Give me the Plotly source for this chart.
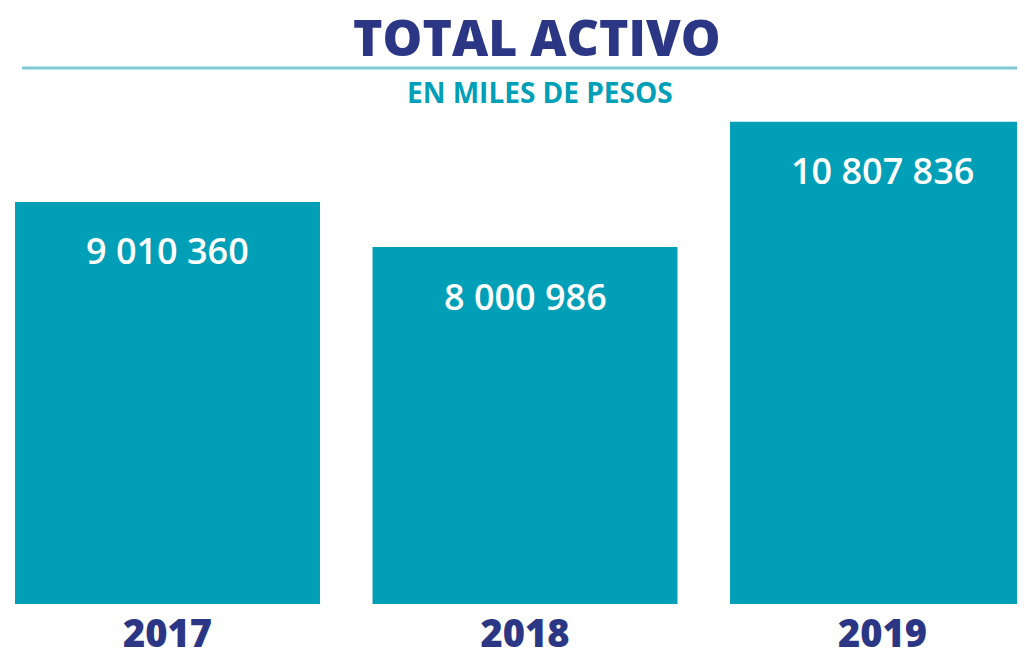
import plotly.graph_objects as go

# Total activo, en miles de pesos
years = ["2017", "2018", "2019"]
total_activo = [9010360, 8000986, 10807836]

NAVY = "#2B3784"
TEAL = "#009FB8"
LINE = "#7FC9D7"
FONT = "Open Sans"


def fmt(v):
    return f"{v:,}".replace(",", " ")


fig = go.Figure(
    go.Bar(
        x=years,
        y=total_activo,
        width=0.853,
        marker=dict(color=TEAL, line_width=0),
        hoverinfo="skip",
    )
)

# value labels inside the top of each bar (x by category index)
for i, v in enumerate(total_activo):
    fig.add_annotation(
        x=i, y=v, xref="x", yref="y",
        text=fmt(v), showarrow=False,
        yanchor="middle", yshift=-49,
        font=dict(family=FONT, size=36, color="white", weight=600),
    )

# title, rule and subtitle
fig.add_annotation(
    x=529 / 1017, y=1.1485, xref="paper", yref="paper",
    text="TOTAL ACTIVO", showarrow=False, yanchor="middle",
    font=dict(family=FONT, size=50, color=NAVY, weight=800),
)
fig.add_annotation(
    x=532 / 1017, y=1.0356, xref="paper", yref="paper",
    text="EN MILES DE PESOS", showarrow=False, yanchor="middle",
    font=dict(family=FONT, size=28, color=TEAL, weight=700),
)
fig.add_shape(
    type="line", xref="paper", yref="paper",
    x0=14 / 1017, x1=1, y0=1.0851, y1=1.0851,
    line=dict(color=LINE, width=3),
)

# page body adds an 8px margin, so the figure is 8px smaller each way
fig.update_layout(
    width=1017,
    height=650,
    margin=dict(l=0, r=0, t=102, b=43),
    plot_bgcolor="white",
    paper_bgcolor="white",
    showlegend=False,
    font=dict(family=FONT),
)
fig.update_xaxes(
    type="category",
    range=[-0.4462, 2.3986],
    showgrid=False, zeroline=False, showline=False, ticks="",
    ticklabelstandoff=4,
    tickfont=dict(family=FONT, size=38, color=NAVY, weight=800),
)
fig.update_yaxes(
    range=[0, 11.072e6],
    visible=False, showgrid=False, zeroline=False,
)

fig.write_html("out.html")
